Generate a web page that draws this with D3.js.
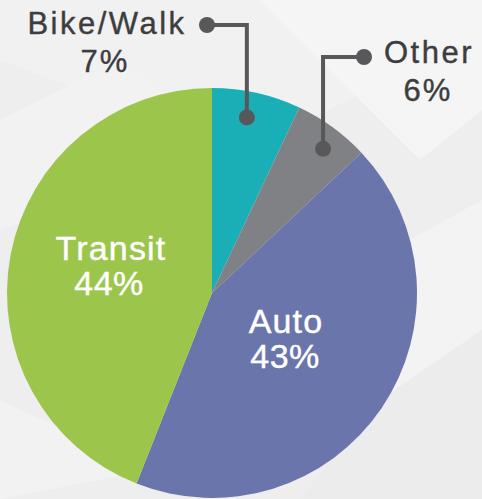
<!DOCTYPE html>
<html>
<head>
<meta charset="utf-8">
<script src="https://cdn.jsdelivr.net/npm/d3@7"></script>
<style>
html,body{margin:0;padding:0;background:#efefef;}
svg{display:block;}
text{font-family:"Liberation Sans",Arial,Helvetica,sans-serif;}
</style>
</head>
<body>
<svg id="chart" width="482" height="499"></svg>
<script>
const categories = ["Bike/Walk", "Other", "Auto", "Transit"];
const values = [7, 6, 43, 44];
const colors = ["#1aafb6", "#808184", "#6a76ab", "#9cc64b"];
const labelText = ["7%", "6%", "43%", "44%"];

const W = 482, H = 499;
const cx = 212, cy = 293, R = 205;
const svg = d3.select("#chart");

// faint geometric background
const bg = svg.append("g");
bg.append("rect").attr("width", W).attr("height", H).attr("fill", "#eeeeee");
const polys = [
  [[0,0],[482,0],[482,40],[240,150],[0,60]],
  [[260,0],[482,0],[482,110],[420,160]],
  [[0,120],[120,60],[240,150],[0,230]],
  [[300,300],[482,200],[482,330],[380,400]],
  [[0,400],[150,470],[0,499]],
  [[380,400],[482,330],[482,499],[300,499]]
];
const polyFill = ["#f1f1f1","#f5f5f5","#f2f2f2","#f3f3f3","#f2f2f2","#ececec"];
bg.selectAll("path.bgp").data(polys).join("path")
  .attr("class","bgp")
  .attr("d", d => "M" + d.map(p => p.join(",")).join("L") + "Z")
  .attr("fill", (d,i) => polyFill[i]);

const pie = d3.pie().sort(null).value(d => d)(values);
const arc = d3.arc().innerRadius(0).outerRadius(R);
const g = svg.append("g").attr("transform", `translate(${cx},${cy})`);
g.selectAll("path.slice").data(pie).join("path")
  .attr("class","slice")
  .attr("d", arc)
  .attr("fill", (d,i) => colors[i]);

const leaderColor = "#58585a";
function polar(angle, r){ return [cx + r*Math.sin(angle), cy - r*Math.cos(angle)]; }

const bw = pie[0];
const bwA = polar((bw.startAngle + bw.endAngle)/2 - 0.024, 179);
const bwPts = [[bwA[0], bwA[1]], [bwA[0], 25], [207, 25]];
const ot = pie[1];
const otA = polar((ot.startAngle + ot.endAngle)/2 + 0.028, 182);
const otPts = [[otA[0], otA[1]], [otA[0], 57], [364, 57]];

const line = d3.line();
[bwPts, otPts].forEach(pts => {
  svg.append("path").attr("d", line(pts)).attr("fill","none")
    .attr("stroke", leaderColor).attr("stroke-width", 4);
  svg.append("circle").attr("cx", pts[0][0]).attr("cy", pts[0][1]).attr("r", 8).attr("fill", leaderColor);
  svg.append("circle").attr("cx", pts[2][0]).attr("cy", pts[2][1]).attr("r", 8).attr("fill", leaderColor);
});

const outColor = "#3d3d3f";
function txt(x, y, s, size, ls, fill){
  svg.append("text").attr("x", x).attr("y", y).attr("text-anchor","middle")
    .attr("font-size", size).attr("letter-spacing", ls)
    .attr("fill", fill).attr("stroke", fill).attr("stroke-width", 0.4)
    .text(s);
}
txt(107, 34, categories[0], 31, 2.5, outColor);
txt(105, 72, labelText[0], 31, 2, outColor);
txt(429, 63, categories[1], 31, 2.5, outColor);
txt(428, 101, labelText[1], 31, 2, outColor);

txt(111, 260, categories[3], 34, 1.2, "#ffffff");
txt(109, 295, labelText[3], 34, 0.5, "#ffffff");
txt(286, 333, categories[2], 34, 1.2, "#ffffff");
txt(285, 368, labelText[2], 34, 0.5, "#ffffff");
</script>
</body>
</html>
